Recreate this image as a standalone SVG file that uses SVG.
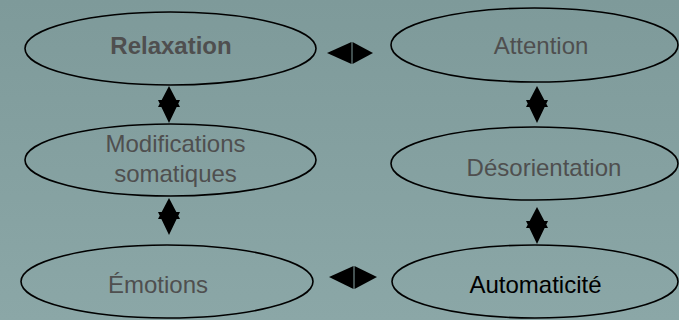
<svg xmlns="http://www.w3.org/2000/svg" width="679" height="320" viewBox="0 0 679 320">
<defs>
<linearGradient id="bg" x1="0" y1="0" x2="0" y2="1">
<stop offset="0" stop-color="#7e9a9a"/>
<stop offset="1" stop-color="#8ba7a7"/>
</linearGradient>
</defs>
<style>
.n{fill:none;stroke:#000;stroke-width:1.6}
.t{font-family:"Liberation Sans",Arial,sans-serif;font-size:24px;fill:#4f4f4f;text-anchor:middle}
.b{font-weight:bold}
.k{fill:#000}
.a{fill:#000;stroke:none}
</style>
<rect width="679" height="320" fill="url(#bg)"/>
<g id="relaxation"><ellipse class="n" cx="170.5" cy="48.5" rx="145.5" ry="36.5"/><text class="t b" x="171" y="54">Relaxation</text></g>
<g id="attention"><ellipse class="n" cx="534.5" cy="45" rx="143.5" ry="37"/><text class="t" x="541" y="54">Attention</text></g>
<g id="modifications"><ellipse class="n" cx="170.5" cy="160" rx="145.5" ry="36"/><text class="t" x="175.5" y="152">Modifications</text><text class="t" x="175.5" y="182">somatiques</text></g>
<g id="desorientation"><ellipse class="n" cx="534.5" cy="163.5" rx="143.5" ry="36.5"/><text class="t" x="544" y="176">Désorientation</text></g>
<g id="emotions"><ellipse class="n" cx="167" cy="281.5" rx="146" ry="36.5"/><text class="t" x="158" y="293">Émotions</text></g>
<g id="automaticite"><ellipse class="n" cx="535" cy="281.5" rx="143" ry="36.5"/><text class="t k" x="535.5" y="293">Automaticité</text></g>
<g id="connectors">
<path class="a" d="M169,86 L180,107 L158,107 Z M169,123 L158,100 L180,100 Z"/>
<path class="a" d="M169,198 L180,219 L158,219 Z M169,235 L158,212 L180,212 Z"/>
<path class="a" d="M537,86 L548,107 L526,107 Z M537,123 L526,100 L548,100 Z"/>
<path class="a" d="M537,207 L548,228 L526,228 Z M537,244 L526,221 L548,221 Z"/>
<polygon class="a" points="327,53 351.5,42 351.5,64"/>
<polygon class="a" points="373,53 352.5,42 352.5,64"/>
<polygon class="a" points="329,277 353.5,266 353.5,289"/>
<polygon class="a" points="377,277 354.5,266 354.5,289"/>
</g>
</svg>
